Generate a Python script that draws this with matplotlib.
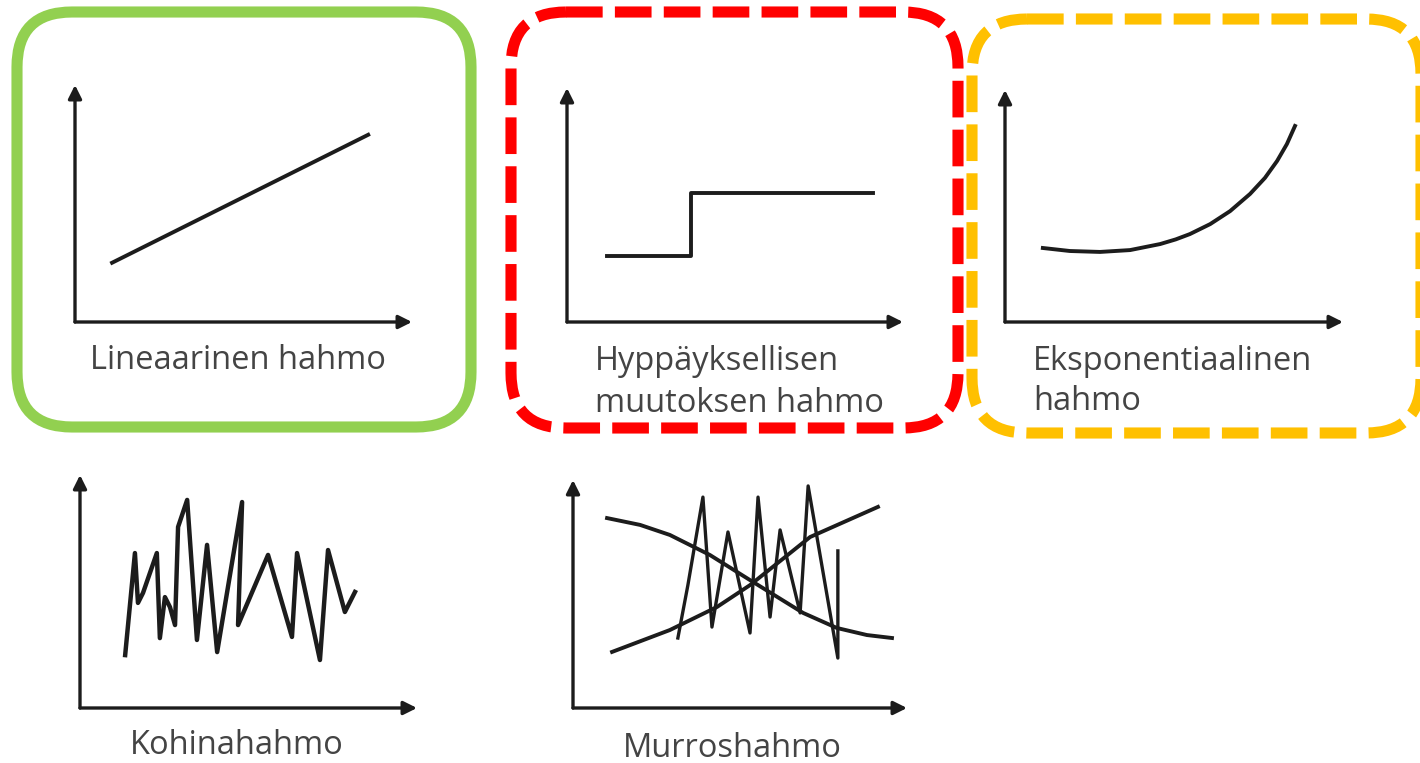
import matplotlib
matplotlib.use('Agg')
import matplotlib.pyplot as plt
from matplotlib.patches import FancyBboxPatch

plt.rcParams['font.family'] = ['Open Sans', 'DejaVu Sans']

W, H = 1420, 763
INK = '#1c1c1c'
TEXT = '#444444'

# ---- data, in 0..100 units inside each small chart ----
linear_x = [11, 87]
linear_y = [25, 79]

step_x = [12, 37, 91]
step_y = [28, 55, 55]

exp_x = [11.2, 19.2, 28.1, 37.0, 45.9, 50.5, 54.7, 60.7, 66.6, 72.5, 76.9, 80.5, 83.4, 85.8]
exp_y = [31.9, 30.6, 30.2, 31.0, 33.6, 35.6, 37.9, 42.2, 47.8, 55.2, 62.1, 69.4, 76.7, 84.5]

noise_x = [13.4, 16.3, 17.2, 18.7, 22.8, 23.7, 25.2, 26.7, 28.2, 29.1, 31.8, 34.7,
           37.7, 40.7, 48.1, 46.9, 55.8, 62.9, 64.4, 71.2, 73.6, 78.6, 81.6]
noise_y = [22.7, 66.5, 45.1, 49.4, 66.5, 30.0, 47.6, 43.3, 35.6, 77.7, 89.3, 29.2,
           70.0, 24.0, 88.4, 35.6, 65.7, 30.5, 66.5, 20.6, 67.8, 41.2, 49.8]

down_x = [10.2, 20.1, 29.0, 41.0, 53.0, 68.9, 79.0, 88.0, 95.5]
down_y = [83.3, 80.3, 75.9, 67.1, 56.1, 41.7, 35.1, 32.0, 30.7]

up_x = [11.7, 29.0, 43.1, 53.0, 71.0, 91.3]
up_y = [24.6, 34.2, 44.3, 53.9, 75.0, 88.2]

burst_x = [31.4, 34.4, 38.9, 41.6, 46.4, 53.0, 55.4, 59.0, 62.0, 68.0, 70.4, 79.3, 79.3]
burst_y = [30.7, 53.9, 92.5, 35.5, 77.2, 32.9, 92.5, 39.9, 78.1, 41.7, 97.4, 21.9, 68.9]

labels_linear = ['Lineaarinen hahmo']
labels_step = ['Hyppäyksellisen', 'muutoksen hahmo']
labels_exp = ['Eksponentiaalinen', 'hahmo']
labels_noise = ['Kohinahahmo']
labels_burst = ['Murroshahmo']


def mini_chart(left, bottom, right, top):
    # small chart with arrow-headed axes, rectangle given in pixels
    ax = fig.add_axes([left / W, 1 - bottom / H, (right - left) / W, (bottom - top) / H])
    ax.set_xlim(0, 100)
    ax.set_ylim(0, 100)
    ax.axis('off')
    arrow = dict(arrowstyle='-|>', color=INK, lw=2.4, mutation_scale=20,
                 shrinkA=0, shrinkB=0)
    ax.annotate('', xy=(1, 0), xytext=(0, 0), xycoords='axes fraction', arrowprops=arrow)
    ax.annotate('', xy=(0, 1), xytext=(0, 0), xycoords='axes fraction', arrowprops=arrow)
    return ax


def label(x, y, s, ha='left'):
    fig.text(x / W, 1 - y / H, s, ha=ha, va='baseline', fontsize=23.5, color=TEXT)


fig = plt.figure(figsize=(W / 100, H / 100), dpi=100)

# coloured frames
frame = fig.add_axes([0, 0, 1, 1])
frame.set_xlim(0, W)
frame.set_ylim(H, 0)
frame.axis('off')
frame.add_patch(FancyBboxPatch((17, 12), 454, 415, boxstyle='round,pad=0,rounding_size=55',
                               fill=False, ec='#92D050', lw=8))
frame.add_patch(FancyBboxPatch((511, 12), 447, 416, boxstyle='round,pad=0,rounding_size=55',
                               fill=False, ec='#FF0000', lw=8, ls=(0, (3.3, 1.1))))
frame.add_patch(FancyBboxPatch((972, 19), 449, 414, boxstyle='round,pad=0,rounding_size=55',
                               fill=False, ec='#FFC000', lw=8, ls=(0, (3.3, 1.1)), clip_on=False))

lw = 2.8

ax1 = mini_chart(75, 322, 412, 85)
ax1.plot(linear_x, linear_y, color=INK, lw=lw, clip_on=False)
label(90, 369, labels_linear[0])

ax2 = mini_chart(567, 322, 903, 88)
ax2.step(step_x, step_y, where='post', color=INK, lw=lw, clip_on=False)
label(595, 370, labels_step[0])
label(595, 412, labels_step[1])

ax3 = mini_chart(1005, 322, 1343, 90)
ax3.plot(exp_x, exp_y, color=INK, lw=lw, clip_on=False)
label(1033, 370, labels_exp[0])
label(1033, 410, labels_exp[1])

ax4 = mini_chart(80, 708, 417, 475)
ax4.plot(noise_x, noise_y, color=INK, lw=lw + 0.4, clip_on=False)
label(237, 754, labels_noise[0], ha='center')

ax5 = mini_chart(573, 708, 907, 480)
ax5.plot(down_x, down_y, color=INK, lw=lw, clip_on=False)
ax5.plot(up_x, up_y, color=INK, lw=lw, clip_on=False)
ax5.plot(burst_x, burst_y, color=INK, lw=2.4, clip_on=False)
label(732, 757, labels_burst[0], ha='center')

fig.savefig('out.png', dpi=100)
